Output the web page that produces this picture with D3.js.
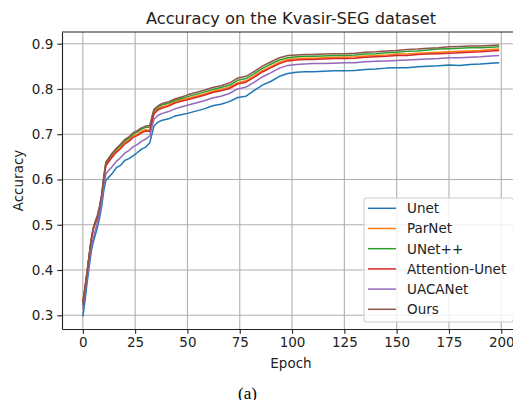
<!DOCTYPE html>
<html>
<head>
<meta charset="utf-8">
<script src="https://cdn.jsdelivr.net/npm/d3@7"></script>
<style>
	body { margin: 0; background: #fff; }
	svg { display: block; overflow: hidden; }
	text { font-family: "DejaVu Sans", sans-serif; fill: #222; }
</style>
</head>
<body>
<svg id="chart" width="513" height="400"></svg>
<script>

// values, one entry per epoch in "epochs"
var epochs = [0,1,2,3,4,5,6,7,8,9,10,11,12,14,16,18,20,22,24,26,28,30,32,33,34,36,38,41,44,47,50,54,58,62,66,70,74,78,82,86,90,94,98,102,106,110,115,120,125,130,135,140,145,150,155,160,165,170,175,180,185,190,195,199]

var unet = [0.297,0.33,0.37,0.405,0.44,0.462,0.478,0.495,0.515,0.54,0.575,0.598,0.603,
	0.613,0.626,0.631,0.642,0.646,0.652,0.659,0.667,0.671,0.681,
	0.700,0.718,0.727,0.731,0.734,0.740,0.743,0.746,
	0.751,0.756,0.763,0.766,0.772,0.781,0.784,0.797,0.809,0.817,0.828,0.834,0.837,0.838,0.838,
	0.839,0.840,0.840,0.841,0.843,0.844,0.846,0.847,0.847,0.849,0.850,0.851,0.853,0.852,0.854,0.855,0.857,0.858]

var parnet = [0.328,0.362,0.395,0.432,0.468,0.492,0.506,0.518,0.538,0.563,0.602,0.632,0.640,
	0.652,0.663,0.671,0.681,0.687,0.696,0.700,0.706,0.710,0.709,
	0.728,0.748,0.757,0.761,0.765,0.772,0.776,0.779,
	0.784,0.789,0.795,0.799,0.804,0.814,0.818,0.829,0.841,0.850,0.859,0.865,0.867,0.868,0.868,
	0.869,0.870,0.870,0.871,0.873,0.874,0.875,0.877,0.877,0.879,0.880,0.881,0.882,0.883,0.884,0.885,0.887,0.888]

var unetpp = [0.325,0.358,0.395,0.432,0.468,0.493,0.507,0.52,0.54,0.565,0.605,0.636,0.643,
	0.656,0.667,0.675,0.685,0.691,0.700,0.705,0.711,0.715,0.716,
	0.735,0.752,0.760,0.765,0.769,0.775,0.779,0.783,
	0.788,0.793,0.799,0.803,0.808,0.819,0.823,0.834,0.846,0.855,0.864,0.869,0.871,0.872,0.872,
	0.873,0.874,0.874,0.875,0.877,0.878,0.880,0.881,0.883,0.884,0.886,0.888,0.889,0.890,0.891,0.891,0.892,0.893]

var attunet = [0.33,0.36,0.392,0.43,0.465,0.49,0.503,0.515,0.535,0.56,0.60,0.630,0.637,
	0.649,0.660,0.668,0.678,0.684,0.693,0.697,0.703,0.707,0.706,
	0.725,0.745,0.754,0.758,0.762,0.769,0.773,0.776,
	0.781,0.786,0.792,0.796,0.801,0.811,0.815,0.826,0.838,0.847,0.856,0.862,0.864,0.865,0.865,
	0.866,0.867,0.867,0.868,0.870,0.871,0.872,0.874,0.874,0.876,0.877,0.878,0.879,0.880,0.881,0.882,0.884,0.885]

var uacanet = [0.315,0.345,0.38,0.415,0.45,0.47,0.488,0.505,0.525,0.55,0.585,0.612,0.618,
	0.628,0.640,0.648,0.658,0.664,0.672,0.677,0.684,0.689,0.696,
	0.715,0.733,0.742,0.746,0.750,0.756,0.760,0.764,
	0.769,0.774,0.780,0.784,0.790,0.800,0.804,0.815,0.827,0.836,0.846,0.852,0.854,0.855,0.856,
	0.856,0.857,0.858,0.858,0.860,0.861,0.862,0.863,0.864,0.865,0.866,0.867,0.869,0.869,0.870,0.871,0.873,0.874]

var ours = [0.322,0.356,0.393,0.43,0.467,0.493,0.508,0.521,0.541,0.566,0.606,0.638,0.645,
	0.658,0.669,0.678,0.688,0.694,0.703,0.708,0.714,0.718,0.719,
	0.738,0.755,0.763,0.768,0.772,0.778,0.782,0.787,
	0.792,0.797,0.803,0.807,0.813,0.824,0.828,0.839,0.851,0.860,0.869,0.874,0.875,0.876,0.876,
	0.877,0.878,0.878,0.879,0.881,0.882,0.884,0.885,0.887,0.888,0.890,0.891,0.893,0.894,0.895,0.895,0.896,0.897]

var names  = ["Unet", "ParNet", "UNet++", "Attention-Unet", "UACANet", "Ours"]
var colors = ["#1f77b4", "#ff7f0e", "#2ca02c", "#d62728", "#9467bd", "#8c564b"]
var xTicks = [0, 25, 50, 75, 100, 125, 150, 175, 200]
var yTicks = [0.3, 0.4, 0.5, 0.6, 0.7, 0.8, 0.9]

var series = [unet, parnet, unetpp, attunet, uacanet, ours].map((vals, i) => ({
	name: names[i],
	color: colors[i],
	values: vals.map((v, j) => ({epoch: epochs[j], acc: v}))
}))

var svg = d3.select("#chart"),
	margin = {top: 32, left: 62, bottom: 71, right: -7},
	width = +svg.attr("width"),
	height = +svg.attr("height");

svg.append("rect").attr("width", width).attr("height", height).attr("fill", "#fff")

var x = d3.scaleLinear()
	.domain([-9.95, 208.95])
	.range([margin.left, width - margin.right])

var y = d3.scaleLinear()
	.domain([0.2697, 0.9258])
	.range([height - margin.bottom, margin.top])

// grid
svg.append("g")
	.selectAll("line")
	.data(xTicks)
	.enter().append("line")
		.attr("x1", d => x(d)).attr("x2", d => x(d))
		.attr("y1", y.range()[0]).attr("y2", y.range()[1])
		.attr("stroke", "#b0b0b0").attr("stroke-width", 1.1)

svg.append("g")
	.selectAll("line")
	.data(yTicks)
	.enter().append("line")
		.attr("x1", x.range()[0]).attr("x2", x.range()[1])
		.attr("y1", d => y(d)).attr("y2", d => y(d))
		.attr("stroke", "#b0b0b0").attr("stroke-width", 1.1)

svg.append("clipPath").attr("id", "clip")
	.append("rect")
		.attr("x", x.range()[0]).attr("y", y.range()[1])
		.attr("width", x.range()[1] - x.range()[0])
		.attr("height", y.range()[0] - y.range()[1])

var line = d3.line()
	.x(d => x(d.epoch))
	.y(d => y(d.acc))

svg.append("g")
	.attr("clip-path", "url(#clip)")
	.selectAll("path")
	.data(series)
	.enter().append("path")
		.attr("d", d => line(d.values))
		.attr("fill", "none")
		.attr("stroke", d => d.color)
		.attr("stroke-width", 1.5)
		.attr("stroke-linejoin", "round")

// axes
var xAxis = svg.append("g")
	.attr("transform", `translate(0,${height - margin.bottom})`)
	.call(d3.axisBottom(x).tickValues(xTicks).tickSize(4.7).tickPadding(4).tickSizeOuter(0))

var yAxis = svg.append("g")
	.attr("transform", `translate(${margin.left},0)`)
	.call(d3.axisLeft(y).tickValues(yTicks).tickFormat(d3.format(".1f")).tickSize(4.7).tickPadding(4).tickSizeOuter(0))

svg.selectAll(".tick text")
	.attr("font-size", 13.5)
	.attr("font-family", "DejaVu Sans")
	.attr("fill", "#222")

svg.selectAll(".tick line").attr("stroke", "#222").attr("stroke-width", 1.1)
svg.selectAll(".domain").attr("stroke", "#222").attr("stroke-width", 1.1)

// top spine
svg.append("line")
	.attr("x1", x.range()[0]).attr("x2", x.range()[1])
	.attr("y1", y.range()[1]).attr("y2", y.range()[1])
	.attr("stroke", "#222").attr("stroke-width", 1.1)

svg.append("text")
	.attr("x", (x.range()[0] + x.range()[1]) / 2)
	.attr("y", 24)
	.attr("text-anchor", "middle")
	.attr("font-size", 16.2)
	.text("Accuracy on the Kvasir-SEG dataset")

svg.append("text")
	.attr("x", (x.range()[0] + x.range()[1]) / 2)
	.attr("y", 368)
	.attr("text-anchor", "middle")
	.attr("font-size", 13.5)
	.text("Epoch")

svg.append("text")
	.attr("transform", `translate(23,${(y.range()[0] + y.range()[1]) / 2}) rotate(-90)`)
	.attr("text-anchor", "middle")
	.attr("font-size", 13.5)
	.text("Accuracy")

svg.append("text")
	.attr("x", 247.5)
	.attr("y", 398.5)
	.attr("text-anchor", "middle")
	.attr("font-size", 17)
	.style("font-family", "'Liberation Serif', serif")
	.style("fill", "#000")
	.text("(a)")

// legend
var legend = svg.append("g")
	.attr("transform", "translate(364,198)")

legend.append("rect")
	.attr("width", 149.5).attr("height", 124)
	.attr("rx", 2.7)
	.attr("fill", "#fff").attr("fill-opacity", 0.8)
	.attr("stroke", "#cccccc").attr("stroke-width", 1.1)

var entry = legend.selectAll("g.entry")
	.data(series)
	.enter().append("g")
		.classed("entry", true)
		.attr("transform", (d, i) => `translate(0,${10.3 + i * 20.2})`)

entry.append("line")
	.attr("x1", 4).attr("x2", 32)
	.attr("stroke", d => d.color)
	.attr("stroke-width", 1.5)

entry.append("text")
	.attr("x", 43)
	.attr("y", 4.9)
	.attr("font-size", 13.5)
	.text(d => d.name)

</script>
</body>
</html>
